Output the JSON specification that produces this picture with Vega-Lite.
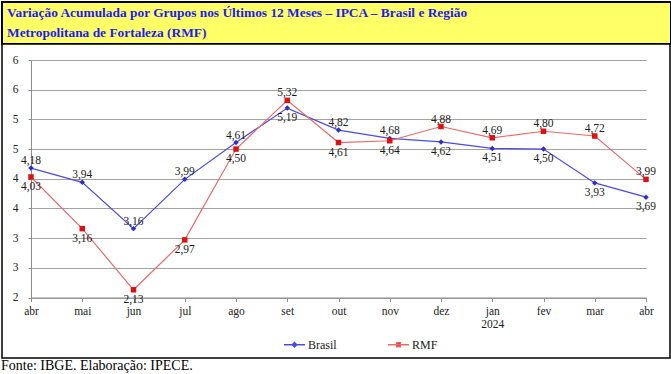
{
  "$schema": "https://vega.github.io/schema/vega-lite/v6.json",
  "padding": {"left": 1, "top": 1, "right": 0, "bottom": 0},
  "background": "white",
  "bounds": "flush",
  "config": {
    "locale": {"number": {"decimal": ",", "thousands": ".", "grouping": [3], "currency": ["R$", ""]}},
    "concat": {"spacing": 0},
    "font": "Liberation Serif"
  },
  "title": {
    "text": "Fonte: IBGE. Elaboração: IPECE.",
    "orient": "bottom",
    "anchor": "start",
    "frame": "bounds",
    "font": "Liberation Serif",
    "fontSize": 14,
    "fontWeight": "normal",
    "color": "black",
    "offset": 0
  },
  "vconcat": [
    {
      "width": 669,
      "height": 42,
      "view": {"fill": "#ffff66", "stroke": "black", "strokeWidth": 2},
      "title": {
        "text": ["Variação Acumulada por Grupos nos Últimos 12 Meses – IPCA – Brasil e Região", "Metropolitana de Fortaleza (RMF)"],
        "anchor": "start",
        "orient": "top",
        "frame": "group",
        "offset": -40,
        "baseline": "top",
        "dx": 5,
        "dy": -3,
        "font": "Liberation Serif",
        "fontWeight": "bold",
        "fontSize": 13.4,
        "lineHeight": 19.5,
        "color": "#1c1cf0"
      },
      "data": {"values": []},
      "mark": "point",
      "encoding": {}
    },
    {
      "width": 668,
      "height": 314,
      "view": {"fill": "white", "stroke": "black", "strokeWidth": 1.5},
      "data": {
        "values": [
          {"mes": "abr/23", "serie": "Brasil", "v": 4.18},
          {"mes": "mai", "serie": "Brasil", "v": 3.94},
          {"mes": "jun", "serie": "Brasil", "v": 3.16},
          {"mes": "jul", "serie": "Brasil", "v": 3.99},
          {"mes": "ago", "serie": "Brasil", "v": 4.61},
          {"mes": "set", "serie": "Brasil", "v": 5.19},
          {"mes": "out", "serie": "Brasil", "v": 4.82},
          {"mes": "nov", "serie": "Brasil", "v": 4.68},
          {"mes": "dez", "serie": "Brasil", "v": 4.62},
          {"mes": "jan", "serie": "Brasil", "v": 4.51},
          {"mes": "fev", "serie": "Brasil", "v": 4.50},
          {"mes": "mar", "serie": "Brasil", "v": 3.93},
          {"mes": "abr/24", "serie": "Brasil", "v": 3.69},
          {"mes": "abr/23", "serie": "RMF", "v": 4.03},
          {"mes": "mai", "serie": "RMF", "v": 3.16},
          {"mes": "jun", "serie": "RMF", "v": 2.13},
          {"mes": "jul", "serie": "RMF", "v": 2.97},
          {"mes": "ago", "serie": "RMF", "v": 4.50},
          {"mes": "set", "serie": "RMF", "v": 5.32},
          {"mes": "out", "serie": "RMF", "v": 4.61},
          {"mes": "nov", "serie": "RMF", "v": 4.64},
          {"mes": "dez", "serie": "RMF", "v": 4.88},
          {"mes": "jan", "serie": "RMF", "v": 4.69},
          {"mes": "fev", "serie": "RMF", "v": 4.80},
          {"mes": "mar", "serie": "RMF", "v": 4.72},
          {"mes": "abr/24", "serie": "RMF", "v": 3.99}
        ]
      },
      "encoding": {
        "x": {
          "field": "mes",
          "type": "ordinal",
          "sort": null,
          "scale": {"type": "point", "range": [29, 644], "padding": 0},
          "axis": {
            "orient": "bottom",
            "offset": -60.5,
            "title": null,
            "grid": false,
            "labelAngle": 0,
            "labelExpr": "datum.value === 'jan' ? ['jan', '2024'] : substring(datum.value, 0, 3)",
            "domainColor": "#8c8c8c",
            "tickColor": "#8c8c8c",
            "tickSize": 4,
            "labelPadding": 4,
            "labelFont": "Liberation Serif",
            "labelFontSize": 11.5,
            "labelLineHeight": 13,
            "labelColor": "#222222"
          }
        },
        "y": {
          "field": "v",
          "type": "quantitative",
          "scale": {"domain": [2, 6], "range": [253.5, 16], "nice": false, "zero": false},
          "axis": {
            "orient": "left",
            "offset": -29,
            "title": null,
            "values": [2, 2.5, 3, 3.5, 4, 4.5, 5, 5.5, 6],
            "format": ".0f",
            "grid": true,
            "gridColor": "#a3a3a3",
            "gridWidth": 1.2,
            "domainColor": "#8c8c8c",
            "tickColor": "#8c8c8c",
            "tickSize": 3,
            "labelPadding": 10,
            "labelFont": "Liberation Serif",
            "labelFontSize": 11.5,
            "labelColor": "#222222"
          }
        }
      },
      "layer": [
        {
          "mark": {"type": "line", "strokeWidth": 1.2},
          "encoding": {
            "color": {
              "field": "serie",
              "type": "nominal",
              "scale": {"domain": ["Brasil", "RMF"], "range": ["#4b4be0", "#e86a6a"]},
              "legend": {
                "orient": "none",
                "legendX": 281,
                "legendY": 289,
                "direction": "horizontal",
                "title": null,
                "symbolType": "M-1,0H1",
                "symbolSize": 441,
                "symbolStrokeWidth": 1.3,
                "labelFont": "Liberation Serif",
                "labelFontSize": 12,
                "labelColor": "#222222",
                "labelOffset": 2,
                "columnPadding": 48,
                "encode": {
                  "symbols": {
                    "update": {
                      "shape": {"signal": "datum.value === 'Brasil' ? 'M-1,0H1M0,-0.22L0.22,0L0,0.22L-0.22,0Z' : 'M-1,0H1M-0.19,-0.19H0.19V0.19H-0.19Z'"},
                      "fill": {"signal": "datum.value === 'Brasil' ? '#2d2dd2' : '#e01010'"}
                    }
                  }
                }
              }
            }
          }
        },
        {
          "mark": {"type": "point", "filled": true, "opacity": 1},
          "encoding": {
            "shape": {"field": "serie", "type": "nominal", "scale": {"domain": ["Brasil", "RMF"], "range": ["diamond", "square"]}, "legend": null},
            "color": {"field": "serie", "type": "nominal", "scale": {"domain": ["Brasil", "RMF"], "range": ["#2d2dd2", "#e01010"]}, "legend": null},
            "size": {"value": 30}
          }
        },
        {
          "transform": [
            {"joinaggregate": [{"op": "max", "field": "v", "as": "vmax"}], "groupby": ["mes"]},
            {"filter": "datum.v >= datum.vmax"}
          ],
          "mark": {"type": "text", "baseline": "alphabetic", "dy": -4, "font": "Liberation Serif", "fontSize": 11.5},
          "encoding": {
            "text": {"field": "v", "type": "quantitative", "format": ".2f"},
            "color": {"value": "#1a1a1a"}
          }
        },
        {
          "transform": [
            {"joinaggregate": [{"op": "max", "field": "v", "as": "vmax"}], "groupby": ["mes"]},
            {"filter": "datum.v < datum.vmax"}
          ],
          "mark": {"type": "text", "baseline": "top", "dy": 4, "font": "Liberation Serif", "fontSize": 11.5},
          "encoding": {
            "text": {"field": "v", "type": "quantitative", "format": ".2f"},
            "color": {"value": "#1a1a1a"}
          }
        }
      ],
      "resolve": {"scale": {"color": "independent"}}
    }
  ]
}
